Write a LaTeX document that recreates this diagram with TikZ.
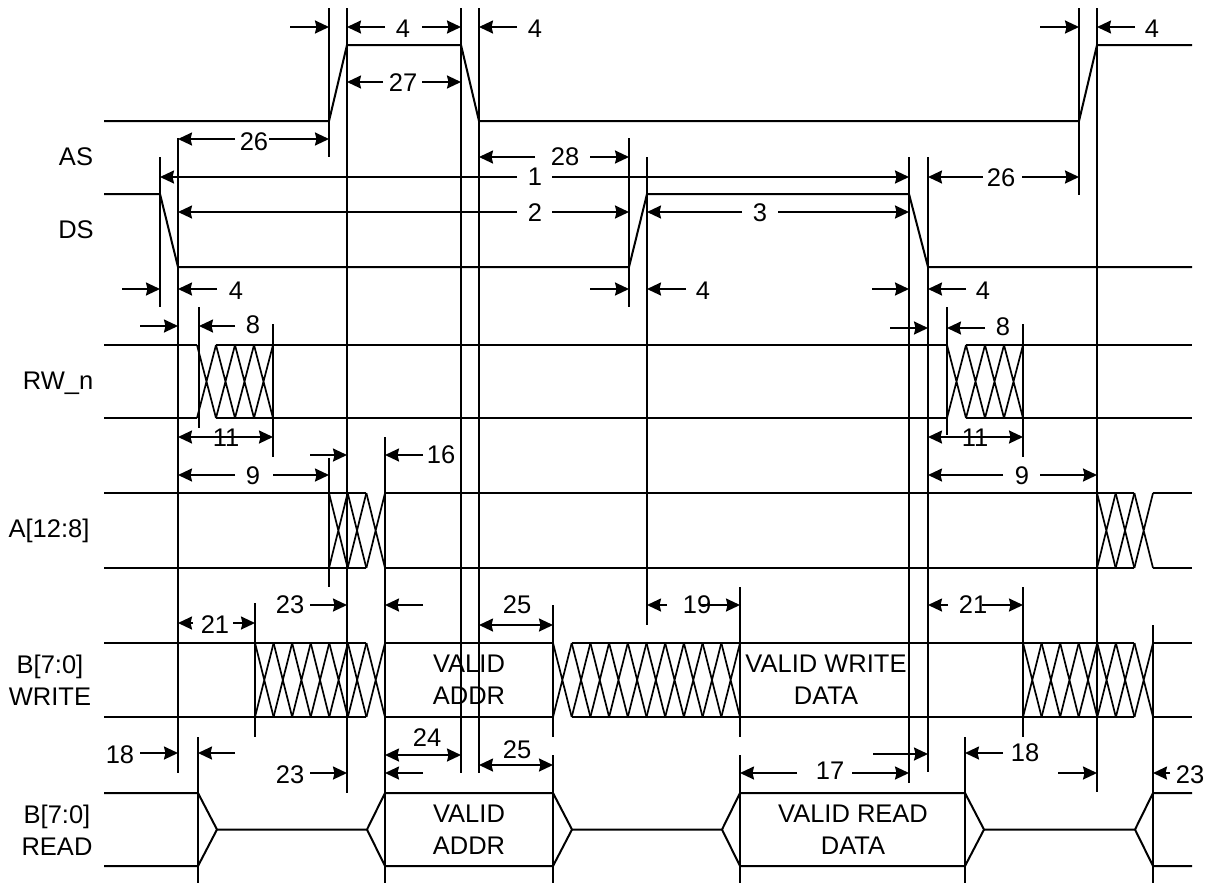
\documentclass[tikz,border=0pt]{standalone}
\usepackage{fontspec}
\setmainfont{Liberation Sans}
\usetikzlibrary{arrows.meta}
\tikzset{
  sig/.style={line width=2pt, line join=miter},
  vl/.style={line width=2pt},
  hl/.style={line width=1.7pt},
  dim/.style={line width=1.9pt, -{Stealth[length=14pt,width=13pt,inset=1.5pt]}},
  ddim/.style={line width=1.9pt, {Stealth[length=14pt,width=13pt,inset=1.5pt]}-{Stealth[length=14pt,width=13pt,inset=1.5pt]}},
  lab/.style={font=\fontsize{25.5}{32}\selectfont, inner sep=0pt, text depth=0pt},
  sname/.style={lab, align=center},
}
\newcommand\myhatch[5]{%
  \foreach \i in {1,...,#3}{%
    \pgfmathsetmacro\xa{#1+(\i-1)*(#2-#1)/#3}%
    \pgfmathsetmacro\xb{#1+\i*(#2-#1)/#3}%
    \draw[hl] (\xa,#4) -- (\xb,#5) (\xa,#5) -- (\xb,#4);
  }%
}
\begin{document}
\begin{tikzpicture}[x=1pt,y=-1pt]
\useasboundingbox[fill=white] (0,0) rectangle (1214,884);

% ---------- signal labels ----------
\node[lab] (lAS) at (76,157) {AS};
\node[lab] (lDS) at (76,230) {DS};
\node[lab] (lRW) at (58,381) {RW\_n};
\node[lab] (lA) at (49,528) {A[12:8]};
\node[sname] (lBW) at (50,680) {B[7:0]\\WRITE};
\node[sname] (lBR) at (57,830) {B[7:0]\\READ};

% ---------- AS / DS ----------
\draw[sig] (104,121) -- (329,121) -- (347,45) -- (461,45) -- (479,121) -- (1079,121) -- (1097,45) -- (1192,45);
\draw[sig] (104,194) -- (160,194) -- (178,267) -- (629,267) -- (647,194) -- (909,194) -- (928,267) -- (1192,267);

% ---------- RW_n ----------
\draw[sig] (104,345) -- (197,345) (216,345) -- (947,345) (966,345) -- (1192,345);
\draw[sig] (104,418) -- (197,418) (216,418) -- (947,418) (966,418) -- (1192,418);
\myhatch{197}{273}{4}{345}{418}
\myhatch{947}{1023}{4}{345}{418}

% ---------- A[12:8] ----------
\draw[sig] (104,493) -- (366.3,493) (385,493) -- (1134.3,493) (1153,493) -- (1192,493);
\draw[sig] (104,568) -- (366.3,568) (385,568) -- (1134.3,568) (1153,568) -- (1192,568);
\myhatch{329}{385}{3}{493}{568}
\myhatch{1097}{1153}{3}{493}{568}

% ---------- B[7:0] WRITE ----------
\draw[sig] (104,643) -- (366.4,643) (385,643) -- (553,643) (571.7,643) -- (1134.4,643) (1153,643) -- (1192,643);
\draw[sig] (104,717) -- (366.4,717) (385,717) -- (553,717) (571.7,717) -- (1134.4,717) (1153,717) -- (1192,717);
\myhatch{255}{385}{7}{643}{717}
\myhatch{553}{740}{10}{643}{717}
\myhatch{1023}{1153}{7}{643}{717}
\node[sname] (vaw) at (469,680) {VALID\\ADDR};
\node[sname] (vwd) at (826,680) {VALID WRITE\\DATA};

% ---------- B[7:0] READ ----------
\draw[sig] (104,793) -- (198,793) -- (217,829.5) -- (367,829.5) -- (385,793) -- (553,793) -- (572,829.5) -- (722,829.5) -- (740,793) -- (965,793) -- (984,829.5) -- (1135,829.5) -- (1153,793) -- (1192,793);
\draw[sig] (104,866) -- (198,866) -- (217,829.5) (367,829.5) -- (385,866) -- (553,866) -- (572,829.5) (722,829.5) -- (740,866) -- (965,866) -- (984,829.5) (1135,829.5) -- (1153,866) -- (1192,866);
\node[sname] (var) at (469,830) {VALID\\ADDR};
\node[sname] (vrd) at (853,830) {VALID READ\\DATA};

% ---------- vertical timing lines ----------
\draw[vl] (160,157) -- (160,307);
\draw[vl] (178,138) -- (178,773);
\draw[vl] (199,307) -- (199,428);
\draw[vl] (273,324) -- (273,457);
\draw[vl] (255,603) -- (255,737);
\draw[vl] (198,737) -- (198,883);
\draw[vl] (329,8) -- (329,157) (329,458) -- (329,587);
\draw[vl] (347,8) -- (347,793);
\draw[vl] (385,437) -- (385,883);
\draw[vl] (461,8) -- (461,773);
\draw[vl] (479,8) -- (479,773);
\draw[vl] (553,605) -- (553,737) (553,755) -- (553,883);
\draw[vl] (629,138) -- (629,307);
\draw[vl] (647,157) -- (647,625);
\draw[vl] (740,587) -- (740,737) (740,755) -- (740,883);
\draw[vl] (909,157) -- (909,783);
\draw[vl] (928,157) -- (928,772);
\draw[vl] (947,307) -- (947,435);
\draw[vl] (965,737) -- (965,883);
\draw[vl] (1023,324) -- (1023,457) (1023,587) -- (1023,737);
\draw[vl] (1079,8) -- (1079,195);
\draw[vl] (1097,8) -- (1097,792);
\draw[vl] (1153,625) -- (1153,883);

% ---------- dimension arrows ----------
% top row
\draw[dim] (290,27) -- (329,27);
\draw[dim] (385,27) -- (347,27); \draw[dim] (422,27) -- (461,27);
\node[lab] (d4a) at (403,29) {4};
\draw[dim] (517,27) -- (479,27);
\node[lab] (d4b) at (535,29) {4};
\draw[dim] (1040,27) -- (1079,27); \draw[dim] (1135,27) -- (1097,27);
\node[lab] (d4c) at (1152,29) {4};
% 27
\draw[dim] (383,82) -- (347,82); \draw[dim] (422,82) -- (461,82);
\node[lab] (d27) at (403,82.5) {27};
% 26
\draw[dim] (235,139) -- (178,139); \draw[dim] (269,139) -- (329,139);
\node[lab] (d26a) at (254,142) {26};
% 28
\draw[dim] (535,157) -- (479,157); \draw[dim] (590,157) -- (629,157);
\node[lab] (d28) at (565,156.5) {28};
% 1
\draw[dim] (517,177) -- (160,177); \draw[dim] (552,177) -- (909,177);
\node[lab] (d1) at (535,176.5) {1};
% 2, 3
\draw[dim] (517,212) -- (178,212); \draw[dim] (552,212) -- (629,212);
\node[lab] (d2) at (535,213) {2};
\draw[dim] (742,212) -- (647,212); \draw[dim] (778,212) -- (909,212);
\node[lab] (d3) at (760,213) {3};
% 26 right
\draw[dim] (983,177) -- (928,177); \draw[dim] (1022,177) -- (1079,177);
\node[lab] (d26b) at (1001,177.5) {26};
% 4 row
\draw[dim] (122,289) -- (160,289); \draw[dim] (217,289) -- (178,289);
\node[lab] (d4d) at (236,290.5) {4};
\draw[dim] (590,289) -- (629,289); \draw[dim] (686,289) -- (647,289);
\node[lab] (d4e) at (703,290.5) {4};
\draw[dim] (872,289) -- (909,289); \draw[dim] (966,289) -- (928,289);
\node[lab] (d4f) at (983,290.5) {4};
% 8
\draw[dim] (140,326) -- (178,326); \draw[dim] (235,326) -- (199,326);
\node[lab] (d8a) at (253,324.5) {8};
\draw[dim] (890,328) -- (928,328); \draw[dim] (985,328) -- (947,328);
\node[lab] (d8b) at (1003,327) {8};
% 11
\draw[ddim] (178,437) -- (273,437);
\node[lab] (d11a) at (226,438) {11};
\draw[ddim] (928,437) -- (1023,437);
\node[lab] (d11b) at (975,438) {11};
% 16
\draw[dim] (310,455) -- (347,455); \draw[dim] (423,455) -- (385,455);
\node[lab] (d16) at (441,455) {16};
% 9
\draw[dim] (235,475) -- (178,475); \draw[dim] (273,475) -- (329,475);
\node[lab] (d9a) at (253,476) {9};
\draw[dim] (1003,475) -- (928,475); \draw[dim] (1040,475) -- (1097,475);
\node[lab] (d9b) at (1022,476) {9};
% 23 upper
\node[lab] (d23a) at (290,605) {23};
\draw[dim] (310,605) -- (347,605); \draw[dim] (423,605) -- (385,605);
% 25 upper
\node[lab] (d25a) at (517,605) {25};
\draw[ddim] (479,625) -- (553,625);
% 19
\draw[dim] (667,605) -- (647,605); \draw[dim] (700,605) -- (740,605);
\node[lab] (d19) at (697,605) {19};
% 21
\draw[dim] (193,623) -- (178,623); \draw[dim] (233,623) -- (255,623);
\node[lab] (d21a) at (215,625) {21};
\draw[dim] (948,605) -- (928,605); \draw[dim] (982,605) -- (1023,605);
\node[lab] (d21b) at (973,605) {21};
% 18
\node[lab] (d18a) at (120,755) {18};
\draw[dim] (140,753) -- (178,753); \draw[dim] (235,753) -- (198,753);
\draw[dim] (873,754) -- (928,754);
\draw[dim] (1003,753) -- (965,753);
\node[lab] (d18b) at (1025,753) {18};
% 23 lower
\node[lab] (d23b) at (290,775) {23};
\draw[dim] (310,773) -- (347,773); \draw[dim] (423,773) -- (385,773);
% 24
\node[lab] (d24) at (427,738) {24};
\draw[ddim] (385,755) -- (461,755);
% 25 lower
\node[lab] (d25b) at (517,750) {25};
\draw[ddim] (479,765) -- (553,765);
% 17
\draw[dim] (797,773) -- (740,773); \draw[dim] (852,773) -- (909,773);
\node[lab] (d17) at (830,771) {17};
% 23 right
\draw[dim] (1058,773) -- (1097,773); \draw[dim] (1170,773) -- (1153,773);
\node[lab] (d23c) at (1190,775) {23};
\end{tikzpicture}
\end{document}
